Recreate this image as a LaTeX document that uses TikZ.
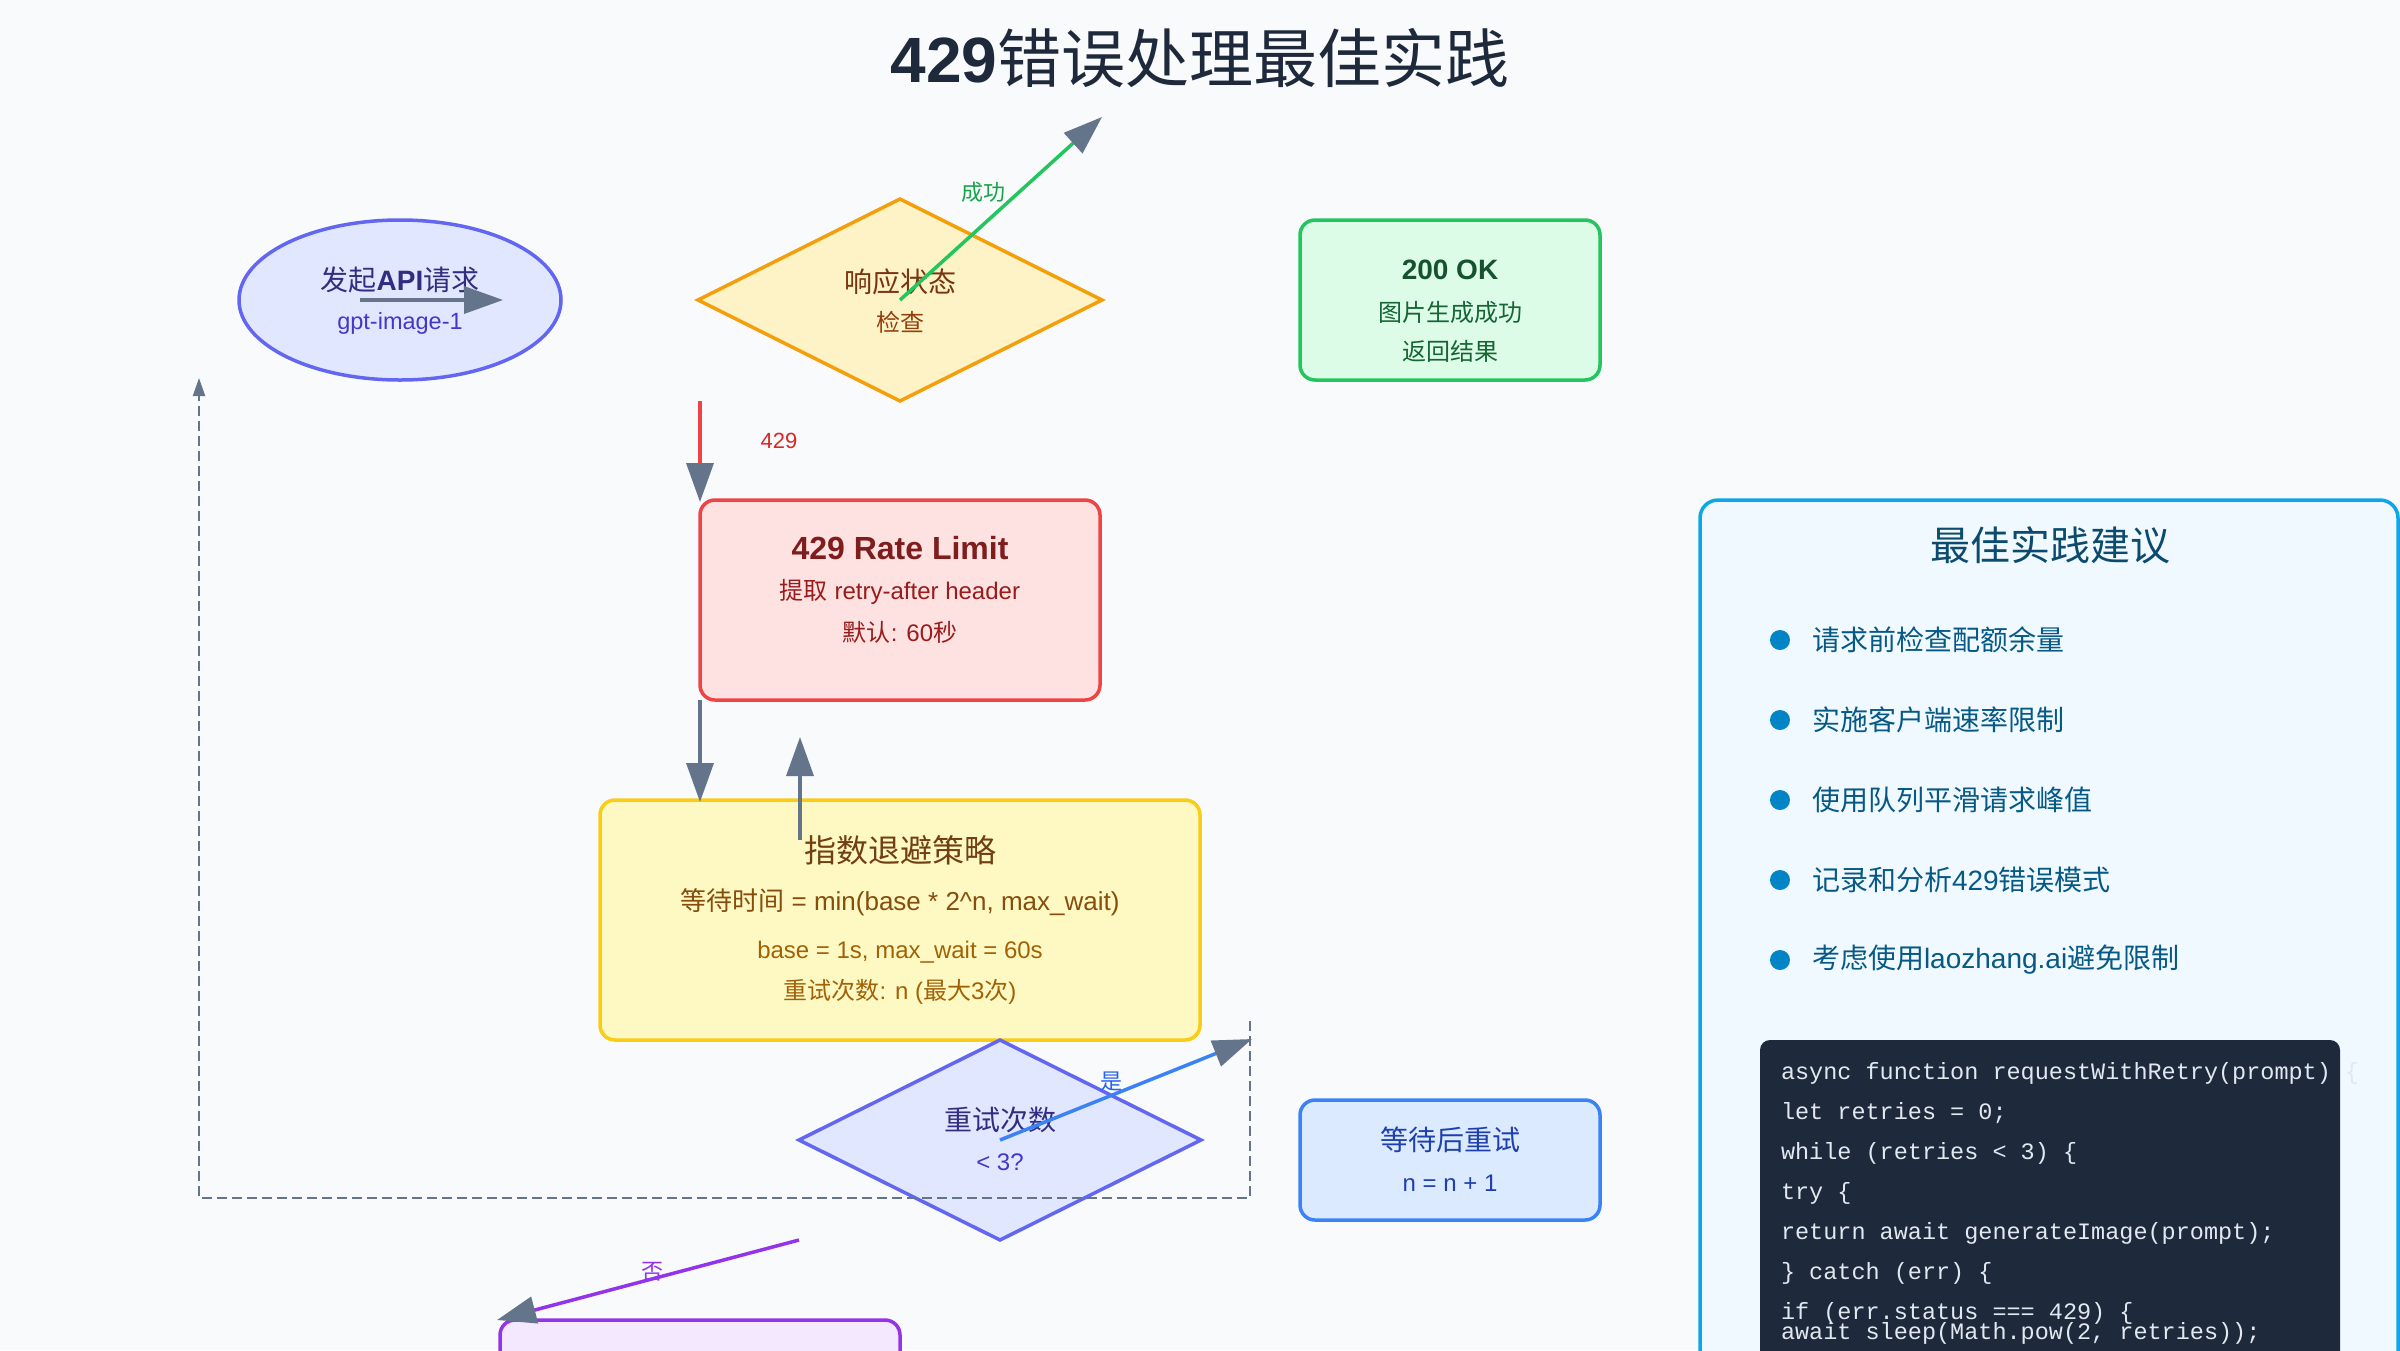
\documentclass[tikz,border=0pt]{standalone}
\usepackage{fontspec}
\setmainfont{Liberation Sans}
\newfontfamily\cjk{Noto Sans CJK SC}
\newfontfamily\monof{Liberation Mono}
\usetikzlibrary{shapes.geometric,arrows.meta,calc}

\definecolor{slate}{HTML}{64748B}
\definecolor{bgc}{HTML}{F8FAFC}
\definecolor{titleC}{HTML}{1E293B}
\definecolor{indigoS}{HTML}{6366F1}
\definecolor{indigoF}{HTML}{E0E7FF}
\definecolor{indigoT}{HTML}{312E81}
\definecolor{indigoTT}{HTML}{4338CA}
\definecolor{amberS}{HTML}{F59E0B}
\definecolor{amberF}{HTML}{FEF3C7}
\definecolor{amberT}{HTML}{78350F}
\definecolor{amberTT}{HTML}{92400E}
\definecolor{greenS}{HTML}{22C55E}
\definecolor{greenF}{HTML}{DCFCE7}
\definecolor{greenT}{HTML}{14532D}
\definecolor{greenTT}{HTML}{166534}
\definecolor{greenL}{HTML}{16A34A}
\definecolor{redS}{HTML}{EF4444}
\definecolor{redF}{HTML}{FEE2E2}
\definecolor{redT}{HTML}{7F1D1D}
\definecolor{redTT}{HTML}{991B1B}
\definecolor{redL}{HTML}{DC2626}
\definecolor{yelS}{HTML}{FACC15}
\definecolor{yelF}{HTML}{FEF9C3}
\definecolor{yelT}{HTML}{713F12}
\definecolor{yelTT}{HTML}{854D0E}
\definecolor{yelTTT}{HTML}{A16207}
\definecolor{blueS}{HTML}{3B82F6}
\definecolor{blueF}{HTML}{DBEAFE}
\definecolor{blueT}{HTML}{1E40AF}
\definecolor{blueL}{HTML}{2563EB}
\definecolor{purS}{HTML}{9333EA}
\definecolor{purF}{HTML}{F3E8FF}
\definecolor{skyS}{HTML}{0EA5E9}
\definecolor{skyF}{HTML}{F0F9FF}
\definecolor{skyT}{HTML}{0C4A6E}
\definecolor{skyTT}{HTML}{075985}
\definecolor{skyB}{HTML}{0284C7}
\definecolor{codeF}{HTML}{1E293B}
\definecolor{codeT}{HTML}{E2E8F0}

\newcommand\zh[1]{{\cjk\mdseries #1}}
\newcommand\fs[1]{\fontsize{#1}{#1}\selectfont}

\begin{document}
\begin{tikzpicture}[x=1pt,y=-1pt,
  every node/.style={inner sep=0pt, outer sep=0pt},
  shapebox/.style={draw, line width=3.5pt, rounded corners=15pt},
  txt/.style={anchor=center},
  conn/.style={line width=3.5pt, -{Triangle[length=39pt,width=27pt,color=slate]}},
  loopconn/.style={line width=2pt, draw=slate, dash pattern=on 10pt off 5pt, -{Triangle[length=18pt,width=12pt,color=slate]}},
  codeline/.style={anchor=west, text=codeT, font=\monof\fs{23.5}},
  tip/.style={anchor=west, text=skyTT, font=\fs{28}},
  dot/.style={circle, fill=skyB, minimum size=20pt}
]
\path[use as bounding box] (0,0) rectangle (2400,1350);
\clip (0,0) rectangle (2400,1350);
\fill[bgc] (0,0) rectangle (2400,1350);

% title
\node[txt, text=titleC, font=\fs{64}] (title) at (1200,58) {\textbf{429}\zh{错误处理最佳实践}};

% shapes
\node[ellipse, draw=indigoS, fill=indigoF, line width=3.5pt, minimum width=322pt, minimum height=160pt] (req) at (400,300) {};
\node[diamond, draw=amberS, fill=amberF, line width=3.5pt, minimum width=404pt, minimum height=202pt] (check) at (900,300) {};
\node[shapebox, draw=greenS, fill=greenF, minimum width=300pt, minimum height=160pt] (ok) at (1450,300) {};
\node[shapebox, draw=redS, fill=redF, minimum width=400pt, minimum height=200pt] (rate) at (900,600) {};
\node[shapebox, draw=yelS, fill=yelF, minimum width=600pt, minimum height=240pt] (backoff) at (900,920) {};
\node[diamond, draw=indigoS, fill=indigoF, line width=3.5pt, minimum width=402pt, minimum height=200pt] (retry) at (1000,1140) {};
\node[shapebox, draw=blueS, fill=blueF, minimum width=300pt, minimum height=120pt] (wait) at (1450,1160) {};
\node[shapebox, draw=purS, fill=purF, minimum width=400pt, minimum height=120pt] (fail) at (700,1380) {};
\node[draw=skyS, fill=skyF, line width=3.5pt, rounded corners=18pt, minimum width=698pt, minimum height=900pt] (panel) at (2049,950) {};
\node[fill=codeF, rounded corners=10pt, minimum width=580pt, minimum height=400pt] (code) at (2050,1240) {};

% texts
\node[txt, text=indigoT, font=\fs{28}] (reqA) at (400,280) {\zh{发起}\textbf{API}\zh{请求}};
\node[txt, text=indigoTT, font=\fs{23.5}] (reqB) at (400,323) {gpt-image-1};
\node[txt, text=amberT, font=\fs{28}] (checkA) at (900,282) {\zh{响应状态}};
\node[txt, text=amberTT, font=\fs{24}] (checkB) at (900,322) {\zh{检查}};
\node[txt, text=greenT, font=\fs{28}] (okA) at (1450,270) {\textbf{200 OK}};
\node[txt, text=greenTT, font=\fs{24}] (okB) at (1450,312) {\zh{图片生成成功}};
\node[txt, text=greenTT, font=\fs{24}] (okC) at (1450,351) {\zh{返回结果}};
\node[txt, text=redT, font=\fs{32}] (rateA) at (900,548) {\textbf{429 Rate Limit}};
\node[txt, text=redTT, font=\fs{24}] (rateB) at (900,592) {\zh{提取} retry-after header};
\node[txt, text=redTT, font=\fs{24}] (rateC) at (900,632) {\zh{默认}: 60\zh{秒}};
\node[txt, text=yelT, font=\fs{32}] (boA) at (900,850) {\zh{指数退避策略}};
\node[txt, text=yelTT, font=\fs{26}] (boB) at (900,902) {\zh{等待时间} = min(base * 2\textasciicircum n, max\_wait)};
\node[txt, text=yelTTT, font=\fs{24}] (boC) at (900,952) {base = 1s, max\_wait = 60s};
\node[txt, text=yelTTT, font=\fs{24}] (boD) at (900,992) {\zh{重试次数}: n (\zh{最大}3\zh{次})};
\node[txt, text=indigoT, font=\fs{28}] (retryA) at (1000,1120) {\zh{重试次数}};
\node[txt, text=indigoTT, font=\fs{24}] (retryB) at (1000,1162) {< 3?};
\node[txt, text=blueT, font=\fs{28}] (waitA) at (1450,1140) {\zh{等待后重试}};
\node[txt, text=blueT, font=\fs{24}] (waitB) at (1450,1183) {n = n + 1};

% panel
\node[txt, text=skyT, font=\fs{40}] (panelT) at (2050,545) {\zh{最佳实践建议}};
\node[dot] (d1) at (1780,640) {};
\node[dot] (d2) at (1780,720) {};
\node[dot] (d3) at (1780,800) {};
\node[dot] (d4) at (1780,880) {};
\node[dot] (d5) at (1780,960) {};
\node[tip] (p1) at (1812,640) {\zh{请求前检查配额余量}};
\node[tip] (p2) at (1812,720) {\zh{实施客户端速率限制}};
\node[tip] (p3) at (1812,800) {\zh{使用队列平滑请求峰值}};
\node[tip] (p4) at (1812,880) {\zh{记录和分析}429\zh{错误模式}};
\node[tip] (p5) at (1812,960) {\zh{考虑使用}laozhang.ai\zh{避免限制}};

% code
\node[codeline] (c1) at (1781,1073) {async function requestWithRetry(prompt) \{};
\node[codeline] (c2) at (1781,1113) {let retries = 0;};
\node[codeline] (c3) at (1781,1153) {while (retries < 3) \{};
\node[codeline] (c4) at (1781,1193) {try \{};
\node[codeline] (c5) at (1781,1233) {return await generateImage(prompt);};
\node[codeline] (c6) at (1781,1273) {\} catch (err) \{};
\node[codeline] (c7) at (1781,1313) {if (err.status === 429) \{};
\node[codeline] (c8) at (1781,1333) {await sleep(Math.pow(2, retries));};

% connector end points
\coordinate (reqS) at ($(req.center)+(-40,0)$);
\coordinate (reqE) at ($(req.center)+(103,0)$);
\coordinate (okE) at (1102,117);
\coordinate (rateTop) at ($(rate.north west)+(0,2)$);
\coordinate (boTop) at ($(rate.south west)+(0,102)$);
\coordinate (boUpS) at (800,840);
\coordinate (boUpE) at (800,737);
\coordinate (yesE) at (1252,1039);
\coordinate (noS) at (retry.west |- retry.south);
\coordinate (noE) at ($(fail.north west)+(-3,0)$);
\coordinate (lpA) at (1250,1021);
\coordinate (lpB) at (1250,1198);
\coordinate (lpC) at (199,1198);
\coordinate (lpD) at (199,378);

% connectors
\draw[conn, draw=slate] (reqS) -- (reqE);
\draw[conn, draw=greenS] (check.center) -- (okE);
\draw[conn, draw=redS] (rate.north west |- check.south) -- (rateTop);
\draw[conn, draw=slate] (rate.south west) -- (boTop);
\draw[conn, draw=slate] (boUpS) -- (boUpE);
\draw[conn, draw=blueS] (retry.center) -- (yesE);
\draw[conn, draw=purS] (noS) -- (noE);
\draw[loopconn] (lpA) -- (lpB) -- (lpC) -- (lpD);

% labels
\node[txt, text=greenL, font=\fs{22}] (lOk) at (983,192) {\zh{成功}};
\node[txt, text=redL, font=\fs{22}] (l429) at (779,441) {429};
\node[txt, text=blueL, font=\fs{22}] (lYes) at (1111,1082) {\zh{是}};
\node[txt, text=purS, font=\fs{22}] (lNo) at (652,1272) {\zh{否}};
\end{tikzpicture}
\end{document}
